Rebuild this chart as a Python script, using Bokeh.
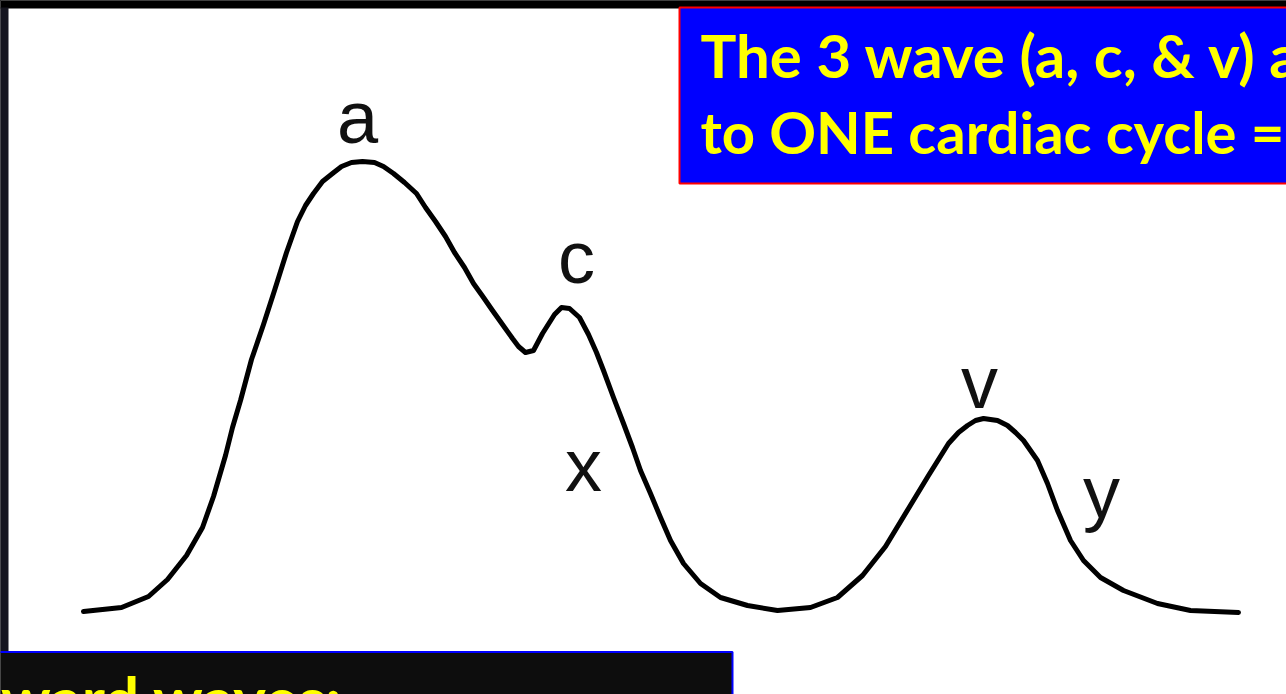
from bokeh.plotting import figure
from bokeh.models import Range1d, BoxAnnotation, Label, ColumnDataSource, GlobalInlineStyleSheet
from bokeh.embed import file_html
from bokeh.resources import INLINE
from bokeh.core.properties import value

# ---- data: jugular venous pressure waveform over one cardiac cycle ----
time_ms = [0, 38, 65, 84, 103, 119, 130, 142, 149, 157, 168, 180, 191, 203, 214,
           222, 230, 239, 249, 258, 268, 279, 291, 300, 310, 321, 333, 342, 352,
           362, 371, 381, 390, 400, 409, 419, 429, 435, 442, 450, 459, 471, 478,
           486, 496, 505, 513, 520, 530, 540, 549, 557, 567, 577, 587, 600, 617,
           637, 664, 694, 727, 754, 779, 802, 825, 845, 865, 875, 884, 892, 900,
           914, 924, 932, 940, 954, 964, 974, 987, 1000, 1017, 1040, 1074, 1107, 1155]
pressure = [0.04, 0.12, 0.34, 0.68, 1.16, 1.72, 2.34, 3.16, 3.72, 4.26, 5.08, 5.78,
            6.46, 7.22, 7.84, 8.16, 8.40, 8.64, 8.80, 8.94, 9.02, 9.04, 9.02, 8.94,
            8.80, 8.62, 8.40, 8.12, 7.84, 7.54, 7.22, 6.92, 6.60, 6.32, 6.06, 5.78,
            5.50, 5.34, 5.22, 5.26, 5.60, 5.98, 6.12, 6.10, 5.92, 5.58, 5.22, 4.86,
            4.32, 3.80, 3.32, 2.86, 2.40, 1.92, 1.46, 1.00, 0.60, 0.32, 0.16, 0.06,
            0.12, 0.32, 0.76, 1.34, 2.10, 2.76, 3.40, 3.62, 3.76, 3.86, 3.90, 3.86,
            3.76, 3.62, 3.46, 3.06, 2.60, 2.06, 1.46, 1.06, 0.72, 0.46, 0.20, 0.06, 0.02]

wave_names = ["a", "c", "x", "v", "y"]
wave_label_t = [274, 493, 500, 896, 1018]
wave_label_p = [9.92, 7.12, 2.96, 4.62, 2.42]

title_lines = ["The 3 wave (a, c, & v) a", "to ONE cardiac cycle ="]
bottom_text = "Upward waves:"

W, H = 1286, 694

p = figure(width=W, height=H, output_backend="svg", toolbar_location=None,
           x_range=Range1d(-83, 1203), y_range=Range1d(-1.62, 12.26),
           x_axis_location=None, y_axis_location=None, min_border=0,
           background_fill_color="white", border_fill_color="white")
p.grid.visible = False
p.outline_line_color = None
p.stylesheets = [GlobalInlineStyleSheet(
    css="html, body { margin: 0 !important; padding: 0 !important; overflow: hidden; background: #000; }")]

# slide frame pieces
p.add_layout(BoxAnnotation(left=-200, right=1400, bottom=12.1, top=14,
                           fill_color="#000000", fill_alpha=1, line_alpha=0))
p.add_layout(BoxAnnotation(left=-200, right=-75, bottom=-0.76, top=12.12,
                           fill_color="#15151f", fill_alpha=1, line_alpha=0))

# waveform
src = ColumnDataSource(dict(t=time_ms, p=pressure))
p.line("t", "p", source=src, line_color="#000000", line_width=5,
       line_join="round", line_cap="round")

lab = ColumnDataSource(dict(t=wave_label_t, p=wave_label_p, s=wave_names))
p.text("t", "p", text="s", source=lab, text_align="center",
       text_baseline="alphabetic", text_font=value("Liberation Sans"),
       text_font_size=value("74px"), text_color="#111111")

# title box
p.add_layout(BoxAnnotation(left=596, right=1400, bottom=8.6, top=12.12,
                           fill_color="#0000FF", fill_alpha=1,
                           line_color="#FF0000", line_width=2, line_alpha=1))
p.add_layout(Label(x=617, y=11.18, text=title_lines[0], text_font="Lato",
                   text_font_style="bold", text_font_size="60px",
                   text_color="#FFFF00", text_baseline="alphabetic"))
p.add_layout(Label(x=617, y=9.64, text=title_lines[1], text_font="Lato",
                   text_font_style="bold", text_font_size="58px",
                   text_color="#FFFF00", text_baseline="alphabetic"))

# bottom box
p.add_layout(BoxAnnotation(left=-200, right=649, bottom=-4, top=-0.77,
                           fill_color="#0D0D0D", fill_alpha=1,
                           line_color="#0000FF", line_width=2, line_alpha=1))
p.add_layout(Label(x=259, y=-1.68, text=bottom_text, text_font="Lato",
                   text_font_style="bold", text_font_size="62px",
                   text_color="#FFFF00", text_align="right",
                   text_baseline="alphabetic"))

open("out.html", "w").write(file_html(p, INLINE))
